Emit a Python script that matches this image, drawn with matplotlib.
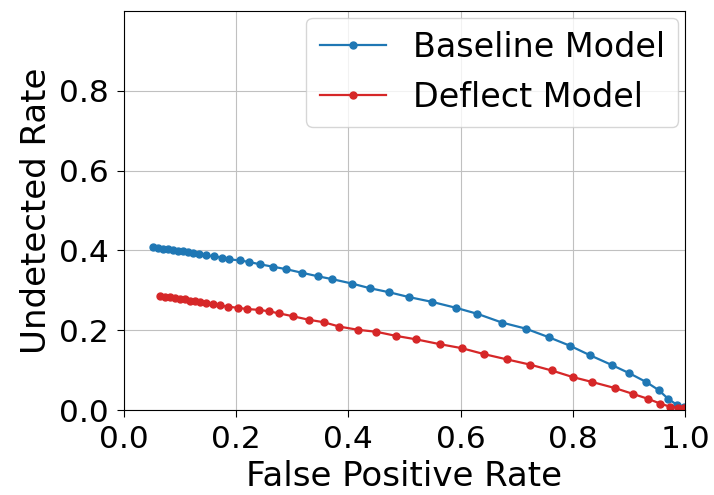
import matplotlib
matplotlib.use("Agg")
import matplotlib.pyplot as plt

# False positive rate / undetected rate pairs for each model
baseline_fpr = [0.052, 0.061, 0.070, 0.079, 0.088, 0.096, 0.105, 0.114, 0.123, 0.134,
                0.146, 0.161, 0.175, 0.188, 0.206, 0.223, 0.243, 0.266, 0.289, 0.317,
                0.346, 0.371, 0.406, 0.439, 0.473, 0.508, 0.549, 0.592, 0.630, 0.674,
                0.716, 0.757, 0.795, 0.831, 0.870, 0.901, 0.931, 0.953, 0.970, 0.986,
                0.998]
baseline_und = [0.409, 0.406, 0.404, 0.4025, 0.401, 0.399, 0.3975, 0.395, 0.393, 0.390,
                0.3875, 0.385, 0.382, 0.3775, 0.375, 0.371, 0.365, 0.359, 0.353, 0.344,
                0.335, 0.328, 0.317, 0.305, 0.295, 0.283, 0.271, 0.256, 0.241, 0.219,
                0.204, 0.1825, 0.161, 0.137, 0.1125, 0.092, 0.070, 0.050, 0.028, 0.0125,
                0.007]

deflect_fpr = [0.064, 0.073, 0.082, 0.091, 0.100, 0.109, 0.118, 0.127, 0.136, 0.146,
               0.158, 0.171, 0.186, 0.203, 0.220, 0.240, 0.258, 0.277, 0.301, 0.330,
               0.356, 0.384, 0.417, 0.450, 0.484, 0.521, 0.563, 0.602, 0.642, 0.682,
               0.723, 0.7625, 0.800, 0.835, 0.875, 0.908, 0.934, 0.956, 0.974, 0.987,
               0.998]
deflect_und = [0.285, 0.283, 0.282, 0.280, 0.278, 0.277, 0.274, 0.2725, 0.270, 0.2675,
               0.265, 0.262, 0.259, 0.256, 0.253, 0.251, 0.2475, 0.242, 0.235, 0.226,
               0.220, 0.209, 0.201, 0.196, 0.186, 0.177, 0.165, 0.155, 0.140, 0.127,
               0.114, 0.099, 0.0825, 0.070, 0.055, 0.040, 0.028, 0.016, 0.008, 0.006,
               0.005]

x_ticks = [0.0, 0.2, 0.4, 0.6, 0.8, 1.0]
y_ticks = [0.0, 0.2, 0.4, 0.6, 0.8]

fig = plt.figure(figsize=(7.14, 4.95), dpi=100)
ax = fig.add_axes([124 / 714, 1 - 410 / 495, 561 / 714, 399 / 495])

ax.plot(baseline_fpr, baseline_und, color="tab:blue", marker="o", markersize=5,
        linewidth=1.6, label="Baseline Model")
ax.plot(deflect_fpr, deflect_und, color="tab:red", marker="o", markersize=5,
        linewidth=1.6, label="Deflect Model")

ax.set_xlim(0, 1.0)
ax.set_ylim(0, 1.0)
ax.set_xticks(x_ticks)
ax.set_yticks(y_ticks)
ax.tick_params(labelsize=22.5, length=5, pad=6)
ax.grid(True, color="#c0c0c0")

ax.set_xlabel("False Positive Rate", fontsize=24.5)
ax.set_ylabel("Undetected Rate", fontsize=24.5)
ax.legend(loc="upper right", fontsize=24, borderaxespad=0.2)

fig.savefig("out.png", dpi=100)
